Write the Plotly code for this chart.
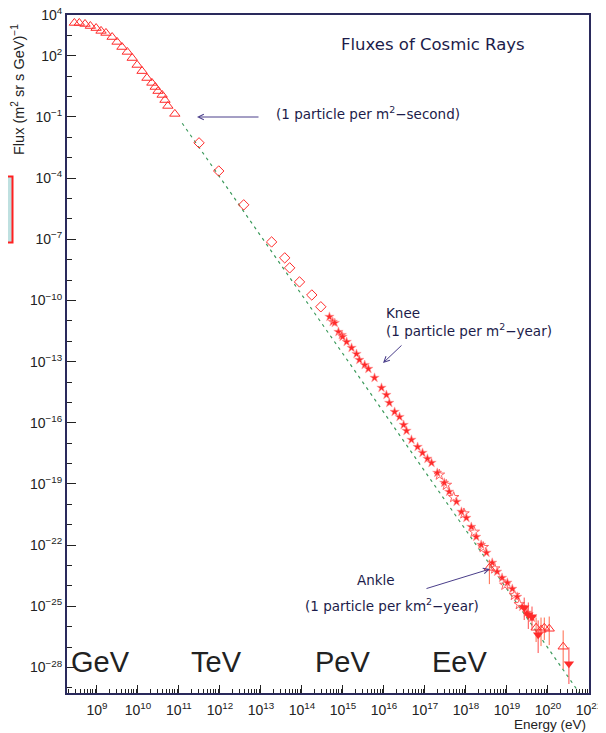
import math
import plotly.graph_objects as go

# ---------------- data (log10 values) ----------------
# open triangles (low-energy direct measurements)
tri_logE = [8.45, 8.57, 8.71, 8.84, 8.98, 9.10, 9.22, 9.37, 9.49, 9.61, 9.74, 9.86,
            9.98, 10.10, 10.22, 10.34, 10.42, 10.49, 10.59, 10.66, 10.73, 10.90]
tri_logF = [3.61, 3.61, 3.56, 3.46, 3.36, 3.22, 3.12, 2.92, 2.68, 2.43, 2.19, 1.89,
            1.55, 1.25, 0.91, 0.67, 0.47, 0.27, 0.08, -0.17, -0.46, -0.85]

# open diamonds
dia_logE = [11.49, 11.97, 12.58, 13.26, 13.58, 13.70, 13.94, 14.24, 14.46]
dia_logF = [-2.27, -3.65, -5.31, -7.13, -7.91, -8.40, -9.09, -9.73, -10.31]

# stars (air-shower data)
star_logE = [14.67, 14.75, 14.80, 14.89, 14.97, 14.99, 15.09, 15.21, 15.33, 15.40,
             15.53, 15.62, 15.77, 15.94, 16.06, 16.13, 16.26, 16.38, 16.48, 16.55,
             16.67, 16.82, 16.94, 17.06, 17.16, 17.30, 17.47, 17.59, 17.77, 17.89,
             18.01, 18.13, 18.25, 18.37, 18.50, 18.64, 18.76, 18.88, 19.01, 19.13,
             19.25, 19.37, 19.49, 19.61]
star_logF = [-10.80, -11.05, -11.10, -11.54, -11.69, -11.78, -12.03, -12.32, -12.62, -12.91,
             -13.16, -13.35, -13.79, -14.28, -14.63, -15.02, -15.46, -15.71, -16.10, -16.39,
             -16.83, -17.18, -17.47, -17.76, -17.96, -18.45, -18.94, -19.38, -19.87, -20.36,
             -20.66, -21.10, -21.59, -21.98, -22.37, -22.86, -23.30, -23.60, -23.84, -24.14,
             -24.53, -25.02, -25.31, -25.56]

# extra overlapping points around the ankle (other experiments)
ank_logE = [17.35, 17.52, 17.70, 17.95, 18.20, 18.42, 18.70, 18.95, 19.18, 19.30]
ank_logF = [-18.55, -19.05, -19.65, -20.45, -21.35, -22.10, -23.15, -23.95, -24.45, -24.90]

# filled down triangles (highest energies) with error bars (decades)
dtri_logE = [19.42, 19.52, 19.61, 19.76, 20.51]
dtri_logF = [-25.07, -25.41, -25.51, -26.39, -27.81]
dtri_errp = [0.5, 0.6, 0.5, 0.7, 0.8]
dtri_errm = [0.6, 0.7, 0.6, 0.9, 1.0]

# open triangles at the tail with error bars
otri_logE = [18.57, 19.71, 19.83, 19.91, 20.03, 20.37]
otri_logF = [-23.11, -26.05, -26.15, -26.05, -26.10, -26.98]
otri_errp = [0.4, 0.5, 0.6, 0.5, 0.6, 0.8]
otri_errm = [0.8, 0.7, 0.8, 0.6, 0.8, 1.1]

# reference power-law line (two end points)
line_logE = [11.08, 20.89]
line_logF = [-1.31, -29.61]

x_major = list(range(9, 22))
y_major = [4, 2, -1, -4, -7, -10, -13, -16, -19, -22, -25, -28]

def p10(v):
    return [10.0 ** a for a in v]

def sup(n):
    s = str(n).replace("-", "\u2212")
    return "10<sup>" + s + "</sup>"

RED = "#ff2a2a"
AX = "#2a2a5c"

fig = go.Figure()

fig.add_trace(go.Scatter(x=p10(line_logE), y=p10(line_logF), mode="lines",
                         line=dict(color="#3c9a5c", width=1.2, dash="3px,4px"),
                         hoverinfo="skip"))

fig.add_trace(go.Scatter(x=p10(tri_logE), y=p10(tri_logF), mode="markers",
                         marker=dict(symbol="triangle-up-open", size=9,
                                     color=RED, line=dict(width=1, color=RED))))

fig.add_trace(go.Scatter(x=p10(dia_logE), y=p10(dia_logF), mode="markers",
                         marker=dict(symbol="diamond-open", size=8,
                                     color=RED, line=dict(width=1, color=RED))))

fig.add_trace(go.Scatter(x=p10(ank_logE), y=p10(ank_logF), mode="markers",
                         marker=dict(symbol="star-open", size=8, color="#ff6060",
                                     line=dict(width=1, color="#ff7070"))))

fig.add_trace(go.Scatter(x=p10(star_logE), y=p10(star_logF), mode="markers",
                         marker=dict(symbol="star", size=7, color=RED,
                                     line=dict(width=0.6, color="#ff9a9a"))))

def err(vals, logv, up):
    out = []
    for e, l in zip(vals, logv):
        if up:
            out.append(10.0 ** (l + e) - 10.0 ** l)
        else:
            out.append(10.0 ** l - 10.0 ** (l - e))
    return out

fig.add_trace(go.Scatter(x=p10(otri_logE), y=p10(otri_logF), mode="markers",
                         marker=dict(symbol="triangle-up-open", size=9, color=RED,
                                     line=dict(width=1, color=RED)),
                         error_y=dict(type="data", symmetric=False,
                                      array=err(otri_errp, otri_logF, True),
                                      arrayminus=err(otri_errm, otri_logF, False),
                                      color="#ff6a4a", thickness=1, width=0)))

fig.add_trace(go.Scatter(x=p10(dtri_logE), y=p10(dtri_logF), mode="markers",
                         marker=dict(symbol="triangle-down", size=9, color=RED),
                         error_y=dict(type="data", symmetric=False,
                                      array=err(dtri_errp, dtri_logF, True),
                                      arrayminus=err(dtri_errm, dtri_logF, False),
                                      color="#ff4a4a", thickness=1, width=0)))

x_minor = [m * 10.0 ** d for d in range(8, 21) for m in range(2, 10)
           if 8.27 < (d + math.log10(m)) < 21]
y_minor = [10.0 ** d for d in range(-29, 4) if d not in y_major]

# the page body has an 8px margin: figure pixel = window pixel - 8
fig.update_layout(
    width=598, height=725,
    margin=dict(l=59, r=17, t=7, b=40, autoexpand=False),
    paper_bgcolor="white", plot_bgcolor="white",
    showlegend=False,
    xaxis=dict(type="log", range=[8.27, 21], showgrid=False, zeroline=False,
               showline=True, linecolor=AX, linewidth=2, mirror=True,
               tickmode="array", tickvals=[10.0 ** v for v in x_major],
               ticktext=[sup(v) for v in x_major],
               ticks="inside", ticklen=8, tickwidth=1, tickcolor="#222",
               ticklabelstandoff=3, ticklabeloverflow="allow",
               tickfont=dict(family="Liberation Sans", size=14, color="#222"),
               minor=dict(tickmode="array", tickvals=x_minor, ticks="inside",
                          ticklen=4, tickwidth=1, tickcolor="#222")),
    yaxis=dict(type="log", range=[-29.25, 4], showgrid=False, zeroline=False,
               showline=True, linecolor=AX, linewidth=2, mirror=True,
               tickmode="array", tickvals=[10.0 ** v for v in y_major],
               ticktext=[sup(v) for v in y_major],
               ticks="inside", ticklen=9, tickwidth=1, tickcolor="#222",
               ticklabeloverflow="allow",
               tickfont=dict(family="Liberation Sans", size=14, color="#222"),
               minor=dict(tickmode="array", tickvals=y_minor, ticks="inside",
                          ticklen=5, tickwidth=1, tickcolor="#222")),
)

def px2paper(px, py):
    return (px - 67) / 522.0, (693 - py) / 678.0

TXT = "#1c1c4a"
AFONT = "DejaVu Sans"

def text(px, py, s, size=12, anchor="left", color=TXT, family=AFONT, angle=0):
    x, y = px2paper(px, py)
    fig.add_annotation(xref="paper", yref="paper", x=x, y=y, text=s, showarrow=False,
                       xanchor=anchor, yanchor="middle", textangle=angle,
                       font=dict(family=family, size=size, color=color))

def arrow(hx, hy, tx, ty):
    x, y = px2paper(hx, hy)
    fig.add_annotation(xref="paper", yref="paper", x=x, y=y, text="", showarrow=True,
                       ax=tx - hx, ay=ty - hy, arrowhead=5, arrowsize=1.1,
                       arrowwidth=1, arrowcolor="#4a3e8a")

text(433, 45, "Fluxes of Cosmic Rays", size=16.5, anchor="center")
text(274, 113, "(1 particle per m<sup>2</sup>\u2212second)", size=13.5)
arrow(197, 117, 260, 117)
text(384, 313, "Knee", size=13.5)
text(384, 330, "(1 particle per m<sup>2</sup>\u2212year)", size=13.5)
arrow(383, 363, 403, 344)
text(355, 580, "Ankle", size=13.5)
text(303, 605, "(1 particle per km<sup>2</sup>\u2212year)", size=13.5)
arrow(490, 569, 425, 589)

text(18, 90, "Flux (m<sup>2</sup> sr s GeV)<sup>\u22121</sup>", size=14.5, anchor="center",
     color="#222", family="Liberation Sans", angle=-90)
text(550, 724, "Energy (eV)", size=13.5, anchor="center", color="#222", family="Liberation Sans")

BIG = "#222222"
for cx, s in [(100, "GeV"), (216, "TeV"), (342, "PeV"), (459, "EeV")]:
    text(cx, 662, s, size=29, anchor="center", color=BIG, family="Liberation Sans")

# small bracket artifact at the left
fig.add_shape(type="rect", xref="paper", yref="paper",
              x0=(8 - 67) / 522.0, x1=(13 - 67) / 522.0,
              y0=(693 - 243) / 678.0, y1=(693 - 176) / 678.0,
              fillcolor="#bfe0e0", line=dict(width=0))
fig.add_shape(type="path", xref="paper", yref="paper",
              path="M {a},{b} L {c},{b} L {c},{d} L {a},{d}".format(
                  a=(8 - 67) / 522.0, c=(12.5 - 67) / 522.0,
                  b=(693 - 176.5) / 678.0, d=(693 - 242.5) / 678.0),
              line=dict(color="#ff2020", width=2))

fig.write_html("out.html")
